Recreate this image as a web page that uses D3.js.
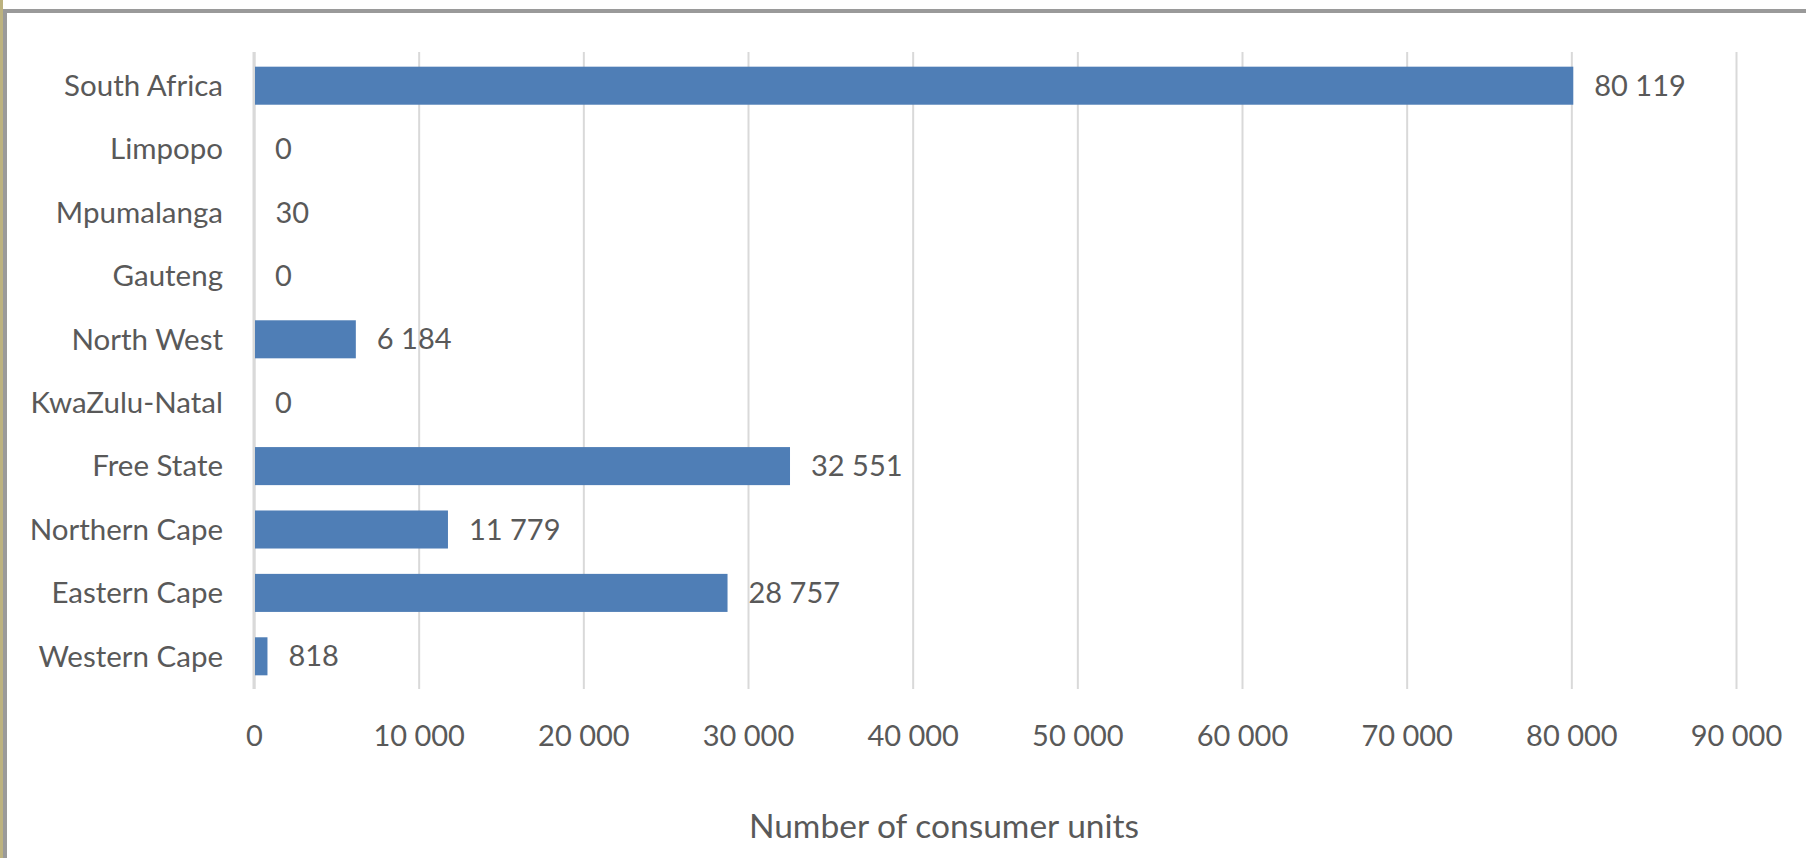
<!DOCTYPE html>
<html lang="en">

<head>
    <meta charset="UTF-8" />
    <script src="https://d3js.org/d3.v7.min.js"></script>
    <title>Consumer units</title>
    <style>
        body { margin: 0; background: #fff; }
        svg text { font-family: Lato, "Open Sans", sans-serif; fill: #595959; }
    </style>
</head>

<body>
    <script>
        const width = 1806,
            height = 858

        // data (bottom to top as in the chart, listed top first)
        const provinces = ['South Africa', 'Limpopo', 'Mpumalanga', 'Gauteng', 'North West',
            'KwaZulu-Natal', 'Free State', 'Northern Cape', 'Eastern Cape', 'Western Cape']
        const units = [80119, 0, 30, 0, 6184, 0, 32551, 11779, 28757, 818]
        const xTicks = [0, 10000, 20000, 30000, 40000, 50000, 60000, 70000, 80000, 90000]
        const xTitle = 'Number of consumer units'

        const margin = { left: 254, right: 70, top: 52, bottom: 169 }
        const plotW = width - margin.left - margin.right
        const plotH = height - margin.top - margin.bottom

        const locale = d3.formatLocale({ decimal: '.', thousands: ' ', grouping: [3], currency: ['', ''] })
        const fmt = locale.format(',d')

        const svg = d3.select('body').append('svg').attr('width', width).attr('height', height)

        // window frame
        svg.append('rect').attr('x', 0).attr('y', 0).attr('width', 3).attr('height', height).attr('fill', '#bcb27f')
        svg.append('rect').attr('x', 3).attr('y', 9).attr('width', 4).attr('height', height - 9).attr('fill', '#9a9a9a')
        svg.append('rect').attr('x', 3).attr('y', 9).attr('width', width - 3).attr('height', 4).attr('fill', '#9a9a9a')

        const g = svg.append('g').attr('transform', `translate(${margin.left},${margin.top})`)

        const x = d3.scaleLinear().domain([0, 90000]).range([0, plotW])
        const y = d3.scaleBand().domain(provinces).range([2, plotH - 1]).paddingInner(0.4).paddingOuter(0.2)

        // gridlines + tick labels
        const xAxis = g.append('g').attr('transform', `translate(0,${plotH})`)
            .call(d3.axisBottom(x).tickValues(xTicks).tickSize(-plotH).tickPadding(36).tickFormat(fmt))
        xAxis.select('.domain').remove()
        xAxis.selectAll('line').attr('stroke', '#d9d9d9').attr('stroke-width', 2)
        xAxis.selectAll('text').attr('font-size', 29).attr('fill', '#5f5f5f')

        // category axis line
        g.append('line').attr('x1', 0).attr('x2', 0).attr('y1', 0).attr('y2', plotH)
            .attr('stroke', '#d9d9d9').attr('stroke-width', 3)

        g.selectAll('.bar').data(units).enter()
            .append('rect')
            .attr('class', 'bar')
            .attr('x', 1)
            .attr('y', (d, i) => y(provinces[i]))
            .attr('width', d => Math.max(0, x(d) - 1))
            .attr('height', y.bandwidth())
            .attr('fill', '#4f7eb6')

        g.selectAll('.val').data(units).enter()
            .append('text')
            .attr('x', d => x(d) + 21)
            .attr('y', (d, i) => y(provinces[i]) + y.bandwidth() / 2)
            .attr('dy', '0.35em')
            .attr('font-size', 29)
            .text(d => fmt(d))

        g.selectAll('.cat').data(provinces).enter()
            .append('text')
            .attr('x', -31)
            .attr('y', d => y(d) + y.bandwidth() / 2)
            .attr('dy', '0.35em')
            .attr('text-anchor', 'end')
            .attr('font-size', 29.5)
            .text(d => d)

        svg.append('text')
            .attr('x', 944)
            .attr('y', 826)
            .attr('dy', '0.35em')
            .attr('text-anchor', 'middle')
            .attr('font-size', 33.5)
            .text(xTitle)
    </script>
</body>

</html>
